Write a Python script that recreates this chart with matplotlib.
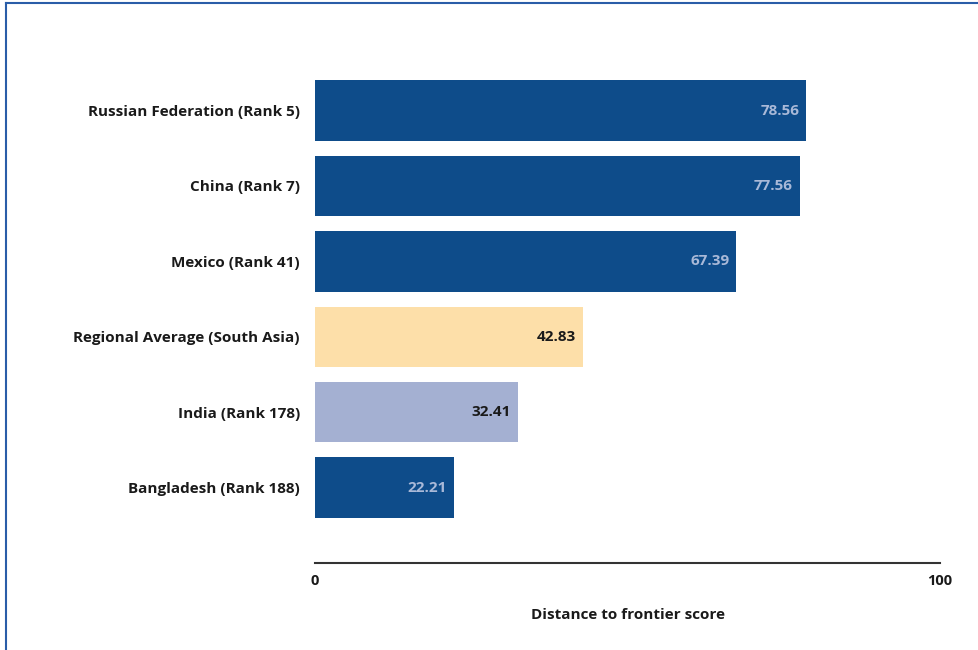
import matplotlib
matplotlib.use("Agg")
import matplotlib.pyplot as plt
from matplotlib.lines import Line2D

# data, top to bottom
countries = ["Russian Federation (Rank 5)", "China (Rank 7)", "Mexico (Rank 41)",
             "Regional Average (South Asia)", "India (Rank 178)", "Bangladesh (Rank 188)"]
scores = [78.56, 77.56, 67.39, 42.83, 32.41, 22.21]
kinds = ["peer", "peer", "peer", "region", "focus", "peer"]

BAR_COLORS = {"peer": "#0E4C8A", "region": "#FDDFA9", "focus": "#A4B0D2"}
TEXT_COLORS = {"peer": "#A9B9D8", "region": "#1A1A1A", "focus": "#1A1A1A"}
FONT = "Open Sans"
FS = 11

fig = plt.figure(figsize=(9.79, 6.5), dpi=100)
ax = fig.add_axes([0.3218, 0.1338, 0.6384, 0.7542])

y = list(range(len(countries)))
ax.barh(y, scores, height=0.8, color=[BAR_COLORS[k] for k in kinds])
for yi, v, k in zip(y, scores, kinds):
    ax.text(v - 1.1, yi, f"{v:.2f}", ha="right", va="center", fontsize=FS,
            fontweight="bold", color=TEXT_COLORS[k], family=FONT)

ax.set_xlim(0, 100)
ax.set_ylim(6, -0.5)
ax.set_yticks(y)
ax.set_yticklabels(countries, fontsize=FS, fontweight="bold", family=FONT, color="#1A1A1A")
ax.set_xticks([0, 100])
ax.set_xticklabels(["0", "100"], fontsize=FS - 0.5, fontweight="bold", family=FONT, color="#1A1A1A")
ax.tick_params(axis="y", length=0, pad=11)
ax.tick_params(axis="x", length=0, pad=8)
for s in ("top", "right", "left"):
    ax.spines[s].set_visible(False)
ax.spines["bottom"].set_color("#333333")
ax.spines["bottom"].set_linewidth(1.5)
ax.set_xlabel("Distance to frontier score", fontsize=FS, fontweight="bold",
              family=FONT, color="#1A1A1A", labelpad=14)

# thin blue frame on left and top edges
fig.add_artist(Line2D([6.5 / 979, 6.5 / 979], [0, 1 - 2.5 / 650], color="#2A5DA8", lw=1.5))
fig.add_artist(Line2D([6.5 / 979, 1], [1 - 2.5 / 650, 1 - 2.5 / 650], color="#2A5DA8", lw=1.5))

fig.savefig("out.png", dpi=100)
